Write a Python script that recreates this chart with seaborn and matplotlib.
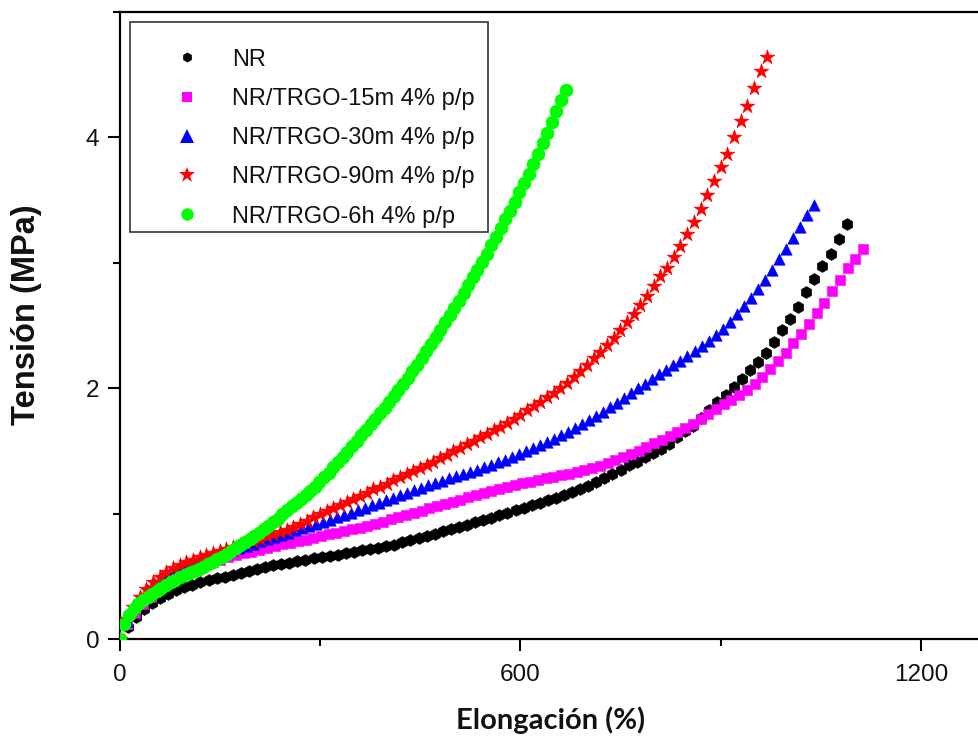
import numpy as np
import matplotlib
matplotlib.use("Agg")
import matplotlib.pyplot as plt
import seaborn as sns
from matplotlib.lines import Line2D
from matplotlib.patches import Rectangle

# Stress-strain curves.
# Each test was logged at a constant strain interval (%), stress in MPa.
nr_step = 12.1
nr_stress = [0, 0.10, 0.18, 0.24, 0.29, 0.33, 0.36, 0.39, 0.415, 0.435,
             0.455, 0.47, 0.485, 0.50, 0.515, 0.53, 0.545, 0.56, 0.575, 0.59,
             0.60, 0.61, 0.625, 0.635, 0.645, 0.655, 0.665, 0.675, 0.685, 0.695,
             0.71, 0.72, 0.73, 0.74, 0.755, 0.772, 0.79, 0.807, 0.825, 0.843,
             0.862, 0.879, 0.896, 0.915, 0.932, 0.95, 0.97, 0.99, 1.01, 1.03,
             1.05, 1.07, 1.09, 1.11, 1.13, 1.15, 1.175, 1.20, 1.225, 1.255,
             1.285, 1.315, 1.35, 1.386, 1.416, 1.452, 1.486, 1.517, 1.558, 1.609,
             1.659, 1.704, 1.762, 1.827, 1.893, 1.95, 2.008, 2.075, 2.146, 2.21,
             2.283, 2.371, 2.462, 2.552, 2.65, 2.765, 2.872, 2.972, 3.073, 3.189,
             3.31]

m15_step = 11.6
m15_stress = [0, 0.12, 0.21, 0.28, 0.34, 0.395, 0.44, 0.48, 0.515, 0.545,
              0.57, 0.595, 0.615, 0.635, 0.655, 0.67, 0.685, 0.70, 0.715, 0.73,
              0.743, 0.756, 0.769, 0.782, 0.795, 0.808, 0.822, 0.836, 0.848, 0.861,
              0.876, 0.891, 0.907, 0.923, 0.939, 0.956, 0.972, 0.989, 1.006, 1.025,
              1.043, 1.062, 1.08, 1.097, 1.114, 1.131, 1.148, 1.165, 1.181, 1.197,
              1.213, 1.228, 1.243, 1.257, 1.27, 1.283, 1.295, 1.307, 1.32, 1.334,
              1.35, 1.366, 1.384, 1.402, 1.427, 1.453, 1.478, 1.505, 1.532, 1.561,
              1.591, 1.621, 1.652, 1.682, 1.718, 1.758, 1.797, 1.837, 1.873, 1.909,
              1.945, 1.986, 2.038, 2.094, 2.152, 2.216, 2.281, 2.358, 2.434, 2.517,
              2.599, 2.681, 2.775, 2.863, 2.957, 3.034, 3.11]

m30_step = 10.5
m30_stress = [0, 0.15, 0.25, 0.33, 0.39, 0.44, 0.485, 0.52, 0.55, 0.575,
              0.60, 0.62, 0.64, 0.6575, 0.675, 0.6925, 0.71, 0.7275, 0.745, 0.7625,
              0.78, 0.7975, 0.815, 0.8325, 0.85, 0.8675, 0.885, 0.9025, 0.92, 0.9375,
              0.955, 0.9725, 0.99, 1.01, 1.03, 1.05, 1.07, 1.09, 1.11, 1.13,
              1.15, 1.17, 1.19, 1.21, 1.23, 1.2475, 1.265, 1.2825, 1.30, 1.3175,
              1.335, 1.3525, 1.37, 1.39, 1.41, 1.43, 1.45, 1.475, 1.50, 1.525,
              1.55, 1.575, 1.60, 1.6275, 1.655, 1.685, 1.715, 1.7475, 1.78, 1.815,
              1.85, 1.885, 1.92, 1.96, 2.00, 2.0375, 2.075, 2.1125, 2.15, 2.185,
              2.22, 2.2575, 2.295, 2.3375, 2.38, 2.425, 2.47, 2.53, 2.59, 2.655,
              2.72, 2.7925, 2.865, 2.9475, 3.03, 3.115, 3.20, 3.29, 3.38, 3.46]

m90_step = 10.0
m90_stress = [0, 0.16, 0.26, 0.34, 0.40, 0.455, 0.50, 0.535, 0.565, 0.59,
              0.615, 0.635, 0.655, 0.673, 0.69, 0.705, 0.72, 0.735, 0.75, 0.768,
              0.785, 0.803, 0.82, 0.838, 0.855, 0.875, 0.895, 0.92, 0.945, 0.972,
              1.00, 1.023, 1.047, 1.07, 1.095, 1.12, 1.145, 1.17, 1.195, 1.218,
              1.242, 1.266, 1.29, 1.315, 1.34, 1.365, 1.39, 1.417, 1.445, 1.472,
              1.50, 1.527, 1.555, 1.582, 1.61, 1.637, 1.665, 1.695, 1.725, 1.757,
              1.79, 1.825, 1.86, 1.895, 1.93, 1.967, 2.005, 2.047, 2.09, 2.14,
              2.19, 2.24, 2.29, 2.345, 2.40, 2.465, 2.527, 2.59, 2.667, 2.737,
              2.815, 2.894, 2.963, 3.049, 3.135, 3.234, 3.324, 3.43, 3.541, 3.651,
              3.761, 3.872, 4.00, 4.128, 4.254, 4.393, 4.527, 4.64]

h6_step = 6.96
h6_stress = [0, 0.12, 0.19, 0.24, 0.28, 0.31, 0.34, 0.364, 0.389, 0.411,
             0.434, 0.455, 0.476, 0.495, 0.513, 0.53, 0.545, 0.561, 0.58, 0.60,
             0.619, 0.64, 0.66, 0.68, 0.704, 0.728, 0.753, 0.777, 0.801, 0.826,
             0.851, 0.878, 0.906, 0.934, 0.963, 0.995, 1.027, 1.059, 1.09, 1.121,
             1.152, 1.183, 1.218, 1.254, 1.29, 1.329, 1.37, 1.411, 1.453, 1.497,
             1.54, 1.584, 1.627, 1.67, 1.714, 1.758, 1.802, 1.847, 1.892, 1.938,
             1.986, 2.033, 2.082, 2.135, 2.188, 2.241, 2.298, 2.354, 2.411, 2.469,
             2.527, 2.585, 2.643, 2.70, 2.762, 2.824, 2.885, 2.947, 3.009, 3.074,
             3.139, 3.208, 3.277, 3.347, 3.416, 3.488, 3.563, 3.637, 3.712, 3.79,
             3.871, 3.954, 4.038, 4.121, 4.208, 4.295, 4.38]

labels = ["NR", "NR/TRGO-15m 4% p/p", "NR/TRGO-30m 4% p/p",
          "NR/TRGO-90m 4% p/p", "NR/TRGO-6h 4% p/p"]

series = [(nr_step, nr_stress), (m15_step, m15_stress), (m30_step, m30_stress),
          (m90_step, m90_stress), (h6_step, h6_stress)]

# colour, marker, marker size in plot (pt), marker size in legend (pt)
styles = [("#000000", "h", 8.6, 7.2),
          ("#FF00FF", "s", 7.0, 7.0),
          ("#0000FF", "^", 8.2, 10.5),
          ("#FF0000", "*", 11.2, 12.0),
          ("#00FF00", "o", 9.4, 9.0)]

sns.set_theme(style="white")
plt.rcParams['font.family'] = ['Liberation Sans', 'DejaVu Sans']

fig = plt.figure(figsize=(9.79, 7.41), dpi=100)
ax = fig.add_axes([0.1222, 0.1372, 0.8866, 0.8466])

for (step, stress), (col, mk, ms, _) in zip(series, styles):
    y = np.asarray(stress, dtype=float)
    x = np.arange(len(y)) * step
    sns.scatterplot(x=x, y=y, ax=ax, color=col, marker=mk, s=ms ** 2,
                    edgecolor=col, linewidth=0.4, legend=False, zorder=3)

ax.set_xlim(0, 1300)
ax.set_ylim(0, 5)
ax.set_xticks([0, 600, 1200])
ax.set_xticks([300, 900], minor=True)
ax.set_yticks([0, 2, 4])
ax.set_yticks([1, 3, 5], minor=True)
ax.tick_params(axis="both", which="both", bottom=True, left=True, top=False,
               right=False, direction="out", width=1.5, color="black")
ax.tick_params(axis="both", which="major", length=8.5, labelsize=17.5,
               labelcolor="#111111")
ax.tick_params(axis="both", which="minor", length=5)
ax.tick_params(axis="x", which="major", pad=9)
ax.tick_params(axis="y", which="major", pad=6)
for sp in ax.spines.values():
    sp.set_linewidth(1.6)
    sp.set_color("black")

# axis titles placed in figure pixels measured on the original
W, H = 979.0, 741.0
ax.set_xlabel("Elongación (%)", family=["Lato", "DejaVu Sans"], fontweight="bold",
              fontsize=21, color="#111111")
ax.xaxis.set_label_coords(551 / W, 1 - 720 / H, transform=fig.transFigure)
ax.xaxis.label.set_verticalalignment("center")
ax.set_ylabel("Tensión (MPa)", fontweight="bold", fontsize=23.5, color="#111111")
ax.yaxis.set_label_coords(27 / W, 1 - 315 / H, transform=fig.transFigure)
ax.yaxis.label.set_verticalalignment("center")

# legend box drawn separately to match the original frame
ax.add_patch(Rectangle((0.0121, 0.6493), 0.412, 0.3347, transform=ax.transAxes,
                       fill=True, facecolor="white", edgecolor="#333333",
                       linewidth=1.2, zorder=4))
handles = [Line2D([], [], linestyle="none", marker=mk, color=col,
                  markersize=lms, markeredgewidth=0)
           for col, mk, _, lms in styles]
leg = ax.legend(handles, labels, loc="upper left", bbox_to_anchor=(0.0508, 0.9415),
                frameon=False, fontsize=17, borderpad=0, borderaxespad=0,
                handlelength=2.0, handletextpad=0.9, labelspacing=0.73)
leg.set_zorder(5)
for t in leg.get_texts():
    t.set_color("#111111")

fig.savefig("out.png", dpi=100)
